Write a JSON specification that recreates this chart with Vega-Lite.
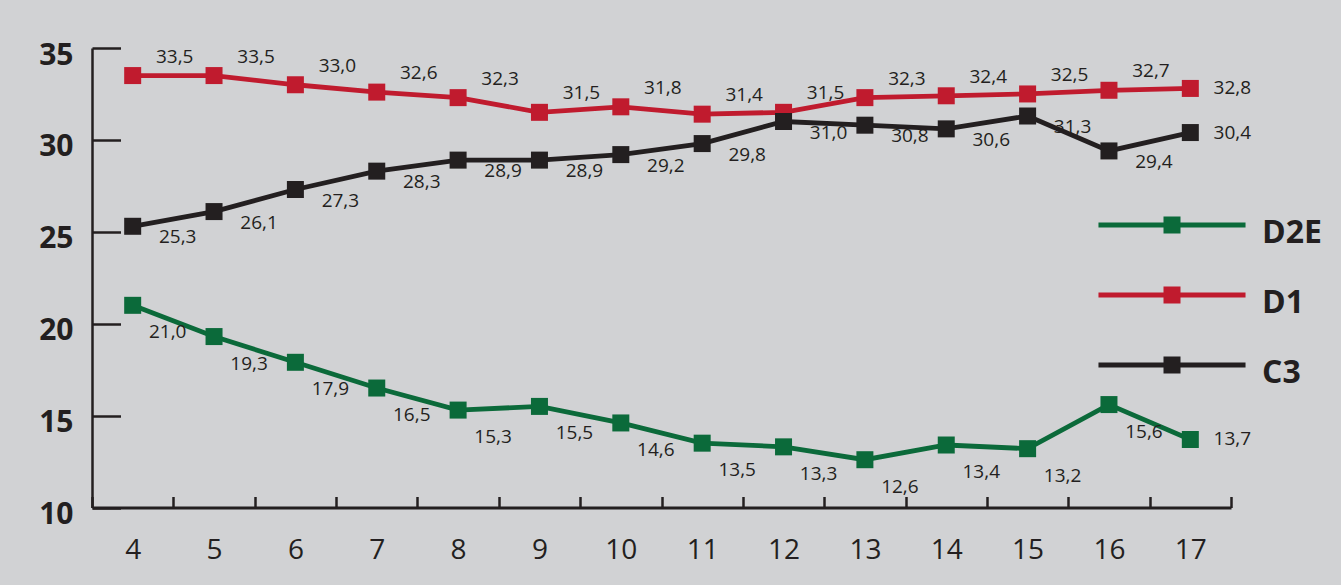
{
  "$schema": "https://vega.github.io/schema/vega-lite/v6.json",
  "width": 1139,
  "height": 459.5,
  "autosize": {"type": "none"},
  "padding": {"left": 92, "top": 48, "right": 110, "bottom": 77.5},
  "background": "#d1d2d4",
  "config": {
    "view": {"stroke": null},
    "font": "Open Sans",
    "locale": {"number": {"decimal": ",", "thousands": ".", "grouping": [3], "currency": ["", " €"]}}
  },
  "data": {
    "values": [
      {"x": 4, "s": "D2E", "v": 21.0}, {"x": 5, "s": "D2E", "v": 19.3}, {"x": 6, "s": "D2E", "v": 17.9},
      {"x": 7, "s": "D2E", "v": 16.5}, {"x": 8, "s": "D2E", "v": 15.3}, {"x": 9, "s": "D2E", "v": 15.5},
      {"x": 10, "s": "D2E", "v": 14.6}, {"x": 11, "s": "D2E", "v": 13.5}, {"x": 12, "s": "D2E", "v": 13.3},
      {"x": 13, "s": "D2E", "v": 12.6}, {"x": 14, "s": "D2E", "v": 13.4}, {"x": 15, "s": "D2E", "v": 13.2},
      {"x": 16, "s": "D2E", "v": 15.6}, {"x": 17, "s": "D2E", "v": 13.7},
      {"x": 4, "s": "D1", "v": 33.5}, {"x": 5, "s": "D1", "v": 33.5}, {"x": 6, "s": "D1", "v": 33.0},
      {"x": 7, "s": "D1", "v": 32.6}, {"x": 8, "s": "D1", "v": 32.3}, {"x": 9, "s": "D1", "v": 31.5},
      {"x": 10, "s": "D1", "v": 31.8}, {"x": 11, "s": "D1", "v": 31.4}, {"x": 12, "s": "D1", "v": 31.5},
      {"x": 13, "s": "D1", "v": 32.3}, {"x": 14, "s": "D1", "v": 32.4}, {"x": 15, "s": "D1", "v": 32.5},
      {"x": 16, "s": "D1", "v": 32.7}, {"x": 17, "s": "D1", "v": 32.8},
      {"x": 4, "s": "C3", "v": 25.3}, {"x": 5, "s": "C3", "v": 26.1}, {"x": 6, "s": "C3", "v": 27.3},
      {"x": 7, "s": "C3", "v": 28.3}, {"x": 8, "s": "C3", "v": 28.9}, {"x": 9, "s": "C3", "v": 28.9},
      {"x": 10, "s": "C3", "v": 29.2}, {"x": 11, "s": "C3", "v": 29.8}, {"x": 12, "s": "C3", "v": 31.0},
      {"x": 13, "s": "C3", "v": 30.8}, {"x": 14, "s": "C3", "v": 30.6}, {"x": 15, "s": "C3", "v": 31.3},
      {"x": 16, "s": "C3", "v": 29.4}, {"x": 17, "s": "C3", "v": 30.4}
    ]
  },
  "encoding": {
    "x": {
      "field": "x",
      "type": "ordinal",
      "bandPosition": 0.5,
      "scale": {"type": "band", "paddingInner": 0, "paddingOuter": 0},
      "axis": {
        "title": null,
        "labelAngle": 0,
        "tickBand": "extent",
        "tickSize": -11,
        "tickWidth": 2.5,
        "tickColor": "#231f20",
        "domainColor": "#231f20",
        "domainWidth": 3,
        "labelFont": "Open Sans",
        "labelFontSize": 28,
        "labelColor": "#231f20",
        "labelBaseline": "alphabetic",
        "labelPadding": 62,
        "grid": false
      }
    },
    "y": {
      "field": "v",
      "type": "quantitative",
      "scale": {"domain": [10, 35], "nice": false, "zero": false},
      "axis": {
        "title": null,
        "values": [10, 15, 20, 25, 30, 35],
        "tickSize": -28.5,
        "tickWidth": 2.5,
        "tickColor": "#231f20",
        "domainColor": "#231f20",
        "domainWidth": 2.5,
        "labelFont": "Open Sans",
        "labelFontSize": 30,
        "labelFontWeight": "bold",
        "labelColor": "#231f20",
        "labelAlign": "right",
        "labelBaseline": "middle",
        "labelOffset": 7,
        "labelPadding": 47.5,
        "grid": false
      }
    },
    "color": {
      "field": "s",
      "type": "nominal",
      "scale": {"domain": ["D2E", "D1", "C3"], "range": ["#0b6a3a", "#c01b2e", "#231f20"]},
      "legend": {
        "title": null,
        "orient": "none",
        "legendX": 1064,
        "legendY": 169,
        "direction": "vertical",
        "padding": 0,
        "symbolType": "M-8.65,-1.23L8.65,-1.23L8.65,-0.65L-8.65,-0.65Z M-1,-1.94L1,-1.94L1,0.06L-1,0.06Z",
        "symbolSize": 289,
        "symbolStrokeWidth": 0,
        "symbolOpacity": 1,
        "symbolFillColor": "#231f20",
        "labelOffset": 74,
        "labelFont": "Open Sans",
        "labelFontSize": 32,
        "labelFontWeight": "bold",
        "labelColor": "#231f20",
        "rowPadding": 37
      }
    }
  },
  "layer": [
    {
      "mark": {"type": "line", "strokeWidth": 4.8}
    },
    {
      "mark": {"type": "point", "shape": "square", "filled": true, "size": 289, "opacity": 1}
    },
    {
      "transform": [{"filter": "datum.s == 'D1' && datum.x != 17"}],
      "mark": {"type": "text", "dx": 42, "dy": -19, "fontSize": 19, "baseline": "middle"},
      "encoding": {"color": {"value": "#231f20"}, "text": {"field": "v", "type": "quantitative", "format": ".1f"}}
    },
    {
      "transform": [{"filter": "datum.s == 'D2E' && datum.x != 17"}],
      "mark": {"type": "text", "dx": 35, "dy": 27, "fontSize": 19, "baseline": "middle"},
      "encoding": {"color": {"value": "#231f20"}, "text": {"field": "v", "type": "quantitative", "format": ".1f"}}
    },
    {
      "transform": [{"filter": "datum.s == 'C3' && datum.x != 17"}],
      "mark": {"type": "text", "dx": 45, "dy": 11, "fontSize": 19, "baseline": "middle"},
      "encoding": {"color": {"value": "#231f20"}, "text": {"field": "v", "type": "quantitative", "format": ".1f"}}
    },
    {
      "transform": [{"filter": "datum.x == 17"}],
      "mark": {"type": "text", "dx": 42, "dy": 0, "fontSize": 19, "baseline": "middle"},
      "encoding": {"color": {"value": "#231f20"}, "text": {"field": "v", "type": "quantitative", "format": ".1f"}}
    }
  ]
}
